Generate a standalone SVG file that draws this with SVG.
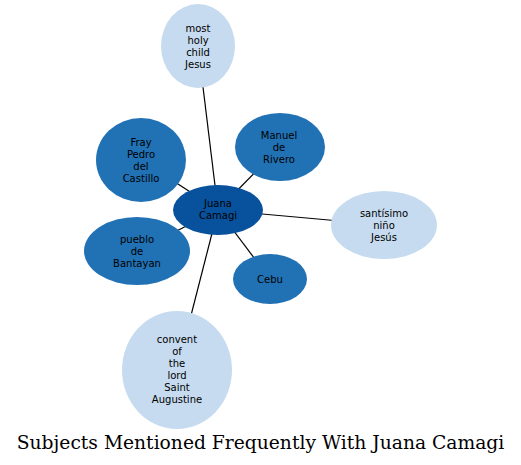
<svg xmlns="http://www.w3.org/2000/svg" width="521" height="465" viewBox="0 0 521 465">
<style>
.e{stroke:#000;stroke-width:1.2}
.t{font-family:"DejaVu Sans",sans-serif;font-size:10px;text-anchor:middle;fill:#000}
.l{fill:#c6dbef}.m{fill:#2171b5}.d{fill:#08519c}
</style>
<rect width="521" height="465" fill="#fff"/>
<g id="edges">
<line class="e" x1="218" y1="210" x2="198" y2="46"/>
<line class="e" x1="218" y1="210" x2="280" y2="147"/>
<line class="e" x1="218" y1="210" x2="141" y2="160"/>
<line class="e" x1="218" y1="210" x2="384" y2="225"/>
<line class="e" x1="218" y1="210" x2="137" y2="251"/>
<line class="e" x1="218" y1="210" x2="270" y2="279"/>
<line class="e" x1="218" y1="210" x2="177" y2="370"/>
</g>
<g id="n-jesus"><ellipse class="l" cx="198" cy="46" rx="37" ry="42"/>
<text class="t" x="198" y="31.5">most</text><text class="t" x="198" y="43.5">holy</text><text class="t" x="198" y="55.5">child</text><text class="t" x="198" y="67.5">Jesus</text></g>
<g id="n-manuel"><ellipse class="m" cx="280" cy="147" rx="45" ry="34"/>
<text class="t" x="279" y="138.5">Manuel</text><text class="t" x="279" y="150.5">de</text><text class="t" x="279" y="162.5">Rivero</text></g>
<g id="n-fray"><ellipse class="m" cx="141" cy="160" rx="45" ry="42"/>
<text class="t" x="141" y="145.5">Fray</text><text class="t" x="141" y="157.5">Pedro</text><text class="t" x="141" y="169.5">del</text><text class="t" x="141" y="181.5">Castillo</text></g>
<g id="n-santisimo"><ellipse class="l" cx="384" cy="225" rx="53" ry="34"/>
<text class="t" x="384" y="216.5">santísimo</text><text class="t" x="384" y="228.5">niño</text><text class="t" x="384" y="240.5">Jesús</text></g>
<g id="n-pueblo"><ellipse class="m" cx="137" cy="251" rx="53" ry="34"/>
<text class="t" x="137" y="242.5">pueblo</text><text class="t" x="137" y="254.5">de</text><text class="t" x="137" y="266.5">Bantayan</text></g>
<g id="n-cebu"><ellipse class="m" cx="270" cy="279" rx="37" ry="25"/>
<text class="t" x="270" y="282.5">Cebu</text></g>
<g id="n-convent"><ellipse class="l" cx="177" cy="370" rx="55" ry="59"/>
<text class="t" x="177" y="342.5">convent</text><text class="t" x="177" y="354.5">of</text><text class="t" x="177" y="366.5">the</text><text class="t" x="177" y="378.5">lord</text><text class="t" x="177" y="390.5">Saint</text><text class="t" x="177" y="402.5">Augustine</text></g>
<g id="n-juana"><ellipse class="d" cx="218" cy="210" rx="45" ry="25"/>
<text class="t" x="218" y="206.5">Juana</text><text class="t" x="218" y="218.5">Camagi</text></g>
<text x="260.5" y="449" font-family="DejaVu Serif,serif" font-size="18.7" text-anchor="middle" fill="#000">Subjects Mentioned Frequently With Juana Camagi</text>
</svg>
